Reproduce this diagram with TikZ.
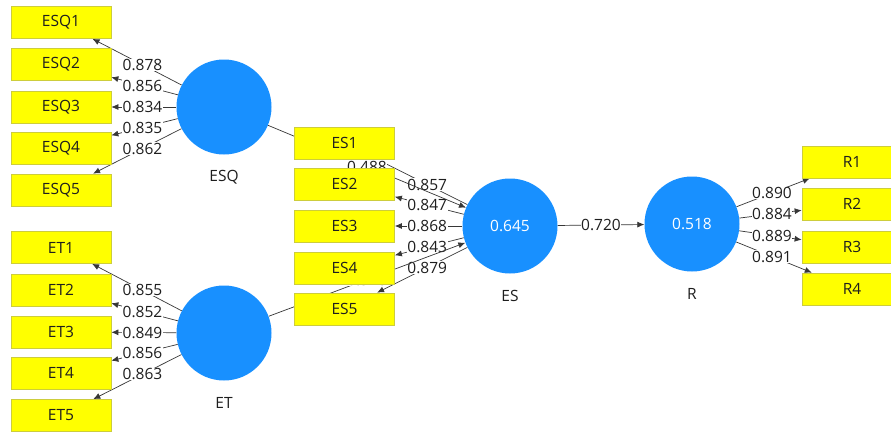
\documentclass[tikz,border=0pt]{standalone}
\usepackage{fontspec}
\setmainfont{Open Sans}
\usetikzlibrary{calc,arrows.meta}
\pgfdeclarelayer{background}
\pgfsetlayers{background,main}
\definecolor{plsblue}{RGB}{24,144,255}
\definecolor{boxyellow}{RGB}{255,255,0}
\definecolor{boxedge}{RGB}{205,205,60}
\definecolor{linegray}{RGB}{55,55,55}
\definecolor{txt}{RGB}{30,30,30}
\begin{document}
\begin{tikzpicture}[x=1pt,y=-1pt,
 ind/.style={rectangle, fill=boxyellow, draw=boxedge, line width=0.7pt, minimum width=100pt, minimum height=32pt, inner sep=0pt, font=\fontsize{15.5}{17}\selectfont, text=txt},
 lat/.style={circle, fill=plsblue, minimum size=95pt, inner sep=0pt, font=\fontsize{15.5}{17}\selectfont, text=white},
 latcap/.style={font=\fontsize{15.5}{17}\selectfont, text=txt, inner sep=0pt},
 lbl/.style={fill=white, inner sep=0.5pt, font=\fontsize{15.5}{17}\selectfont, text=txt},
 conn/.style={draw=linegray, line width=0.7pt, -{Latex[length=7pt,width=6pt]}},
]
\useasboundingbox (0,0) rectangle (891,431);
\clip (0,0) rectangle (891,431);

% latent variables
\node[lat] (ESQ) at (224,107) {};
\node[lat] (ET)  at (224,333) {};
\node[lat] (ES)  at (510,226) {0.645};
\node[lat] (R)   at (692,224) {0.518};
\node[latcap] (ESQc) at (224,177) {ESQ};
\node[latcap] (ETc)  at (224,403) {ET};
\node[latcap] (ESc)  at (510,296) {ES};
\node[latcap] (Rc)   at (692,294) {R};

% ESQ indicators
\node[ind] (ESQ1) at (61,22.5) {ESQ1};
\node[ind] (ESQ2) at (61,64) {ESQ2};
\node[ind] (ESQ3) at (61,107) {ESQ3};
\node[ind] (ESQ4) at (61,148) {ESQ4};
\node[ind] (ESQ5) at (61,190) {ESQ5};
% ET indicators
\node[ind] (ET1) at (61,247.5) {ET1};
\node[ind] (ET2) at (61,290) {ET2};
\node[ind] (ET3) at (61,332) {ET3};
\node[ind] (ET4) at (61,373) {ET4};
\node[ind] (ET5) at (61,415.5) {ET5};
% ES indicators
\node[ind] (ES1) at (344.5,143) {ES1};
\node[ind] (ES2) at (344.5,184) {ES2};
\node[ind] (ES3) at (344.5,226) {ES3};
\node[ind] (ES4) at (344.5,268) {ES4};
\node[ind] (ES5) at (344.5,309) {ES5};
% R indicators
\node[ind] (R1) at (852,162) {R1};
\node[ind] (R2) at (852,204) {R2};
\node[ind] (R3) at (852,247) {R3};
\node[ind] (R4) at (852,289) {R4};

\begin{pgfonlayer}{background}
\fill[white] (0,0) rectangle (891,431);
% indicator loadings
\foreach \a/\b/\v in {ESQ/ESQ1/0.878, ESQ/ESQ2/0.856, ESQ/ESQ3/0.834, ESQ/ESQ4/0.835, ESQ/ESQ5/0.862,
                      ET/ET1/0.855, ET/ET2/0.852, ET/ET3/0.849, ET/ET4/0.856, ET/ET5/0.863,
                      ES/ES1/0.857, ES/ES2/0.847, ES/ES3/0.868, ES/ES4/0.843, ES/ES5/0.879,
                      R/R1/0.890, R/R2/0.884, R/R3/0.889, R/R4/0.891}{
  \draw[conn] (\a) -- (\b);
  \node[lbl] at ($(\a)!0.5!(\b)$) {\v};
}
% structural paths
\draw[conn] (ESQ) -- (ES);
\node[lbl] (p1) at ($(ESQ)!0.5!(ES)$) {0.488};
\draw[conn] (ET) -- (ES);
\node[lbl] (p2) at ($(ET)!0.5!(ES)$) {0.370};
\draw[conn] (ES) -- (R);
\node[lbl] (p3) at ($(ES)!0.5!(R)$) {0.720};
\end{pgfonlayer}
\end{tikzpicture}
\end{document}
